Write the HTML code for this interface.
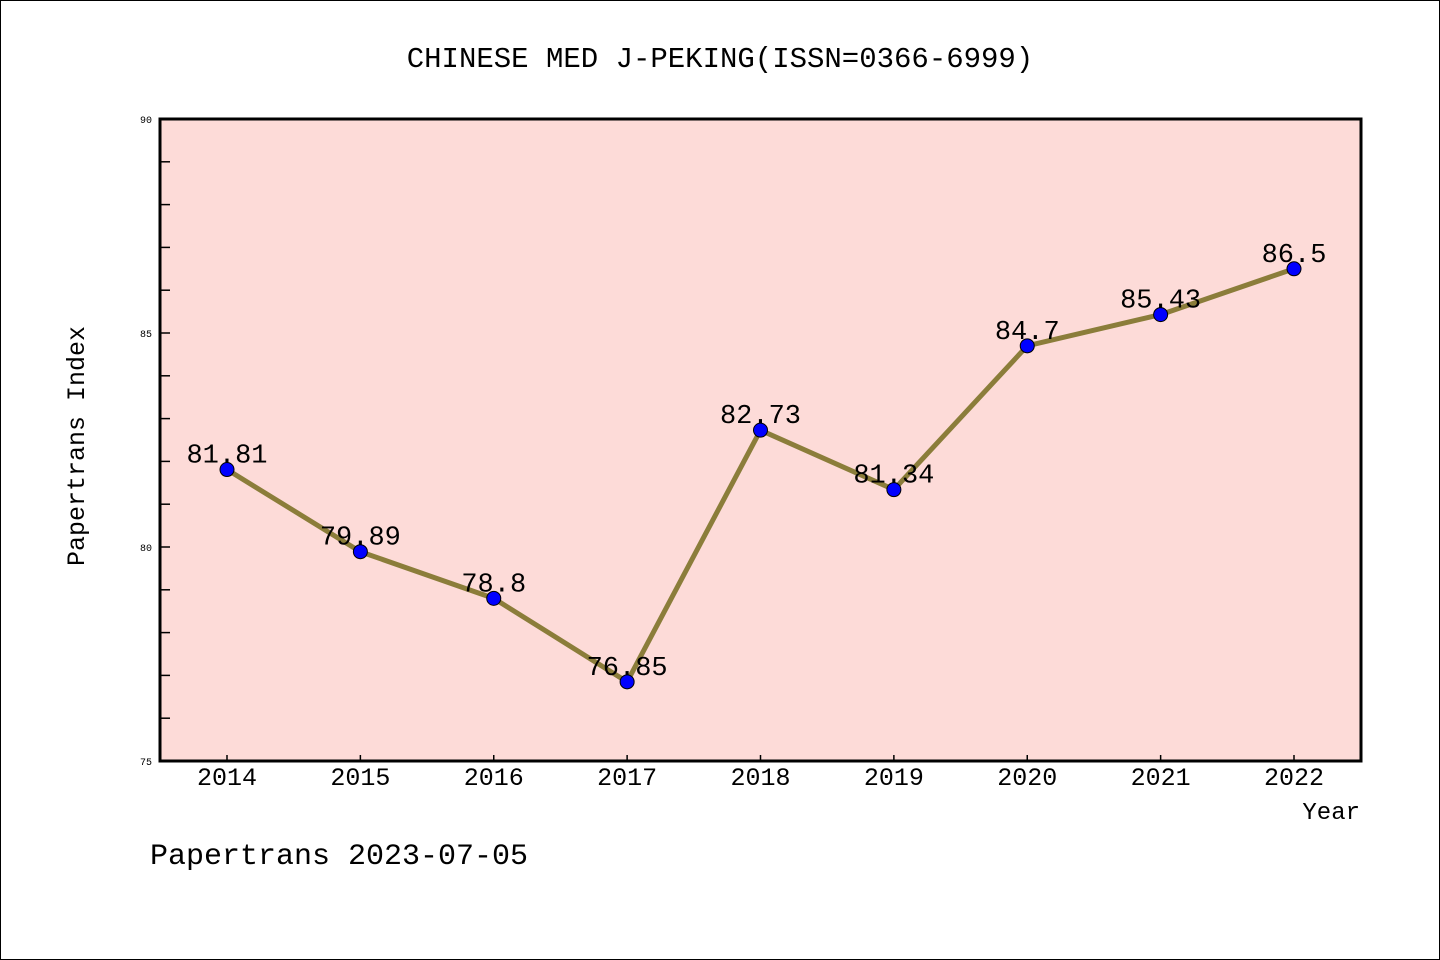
<!DOCTYPE html>
<html><head><meta charset="utf-8"><style>
html,body{margin:0;padding:0;background:#fff}
svg{display:block;font-family:"Liberation Mono",monospace}
</style></head><body>
<svg id="chart" width="1440" height="960" viewBox="0 0 1440 960">
<rect x="0.5" y="0.5" width="1439" height="959" fill="#fff" stroke="#000"/>
<text x="720" y="67" text-anchor="middle" font-size="29">CHINESE MED J-PEKING(ISSN=0366-6999)</text>
<rect x="160" y="119" width="1201" height="642" fill="#fddbd8"/>
<g id="ticks"></g>
<g id="series"></g>
<rect x="160" y="119" width="1201" height="642" fill="none" stroke="#000" stroke-width="3"/>
<text transform="translate(84,446) rotate(-90)" text-anchor="middle" font-size="25">Papertrans Index</text>
<text x="1360" y="819" text-anchor="end" font-size="24">Year</text>
<text x="150" y="864" font-size="30">Papertrans 2023-07-05</text>
</svg>
<script>
const years = [2014,2015,2016,2017,2018,2019,2020,2021,2022];
const values = [81.81,79.89,78.8,76.85,82.73,81.34,84.7,85.43,86.5];
const labels = ["81.81","79.89","78.8","76.85","82.73","81.34","84.7","85.43","86.5"];
const yTicks = [75,80,85,90];
const NS="http://www.w3.org/2000/svg";
function xs(i){return 227+i*(1294-227)/8;}
function ys(v){return 761-(v-75)*(642/15);}
function mk(t,a,p){const e=document.createElementNS(NS,t);for(const k in a)e.setAttribute(k,a[k]);p.appendChild(e);return e;}
const tk=document.getElementById('ticks'), sr=document.getElementById('series');
for(let v=76;v<90;v++){
  const l=mk('line',{x1:160,x2:170,y1:ys(v),y2:ys(v),stroke:'#000','stroke-width':1.5},tk);
  
  
}
yTicks.forEach(v=>{
  const t=mk('text',{x:152,y:ys(v)+4,'text-anchor':'end','font-size':10},tk);t.textContent=v;
  
  
});
years.forEach((y,i)=>{
  const l=mk('line',{x1:xs(i),x2:xs(i),y1:761,y2:755,stroke:'#000','stroke-width':1.5},tk);
  
  
  const t=mk('text',{x:xs(i),y:785,'text-anchor':'middle','font-size':25},tk);t.textContent=y;
  
  
});
const pl=mk('polyline',{points:values.map((v,i)=>xs(i)+','+ys(v)).join(' '),fill:'none',stroke:'#8b7d3a','stroke-width':5,'stroke-linejoin':'round'},sr);


values.forEach((v,i)=>{
  const c=mk('circle',{cx:xs(i),cy:ys(v),r:7,fill:'#0000ff',stroke:'#000','stroke-width':1},sr);
  
  
  const t=mk('text',{x:xs(i),y:ys(v)-7,'text-anchor':'middle','font-size':27},sr);t.textContent=labels[i];
  
  
});
</script>
</body></html>
